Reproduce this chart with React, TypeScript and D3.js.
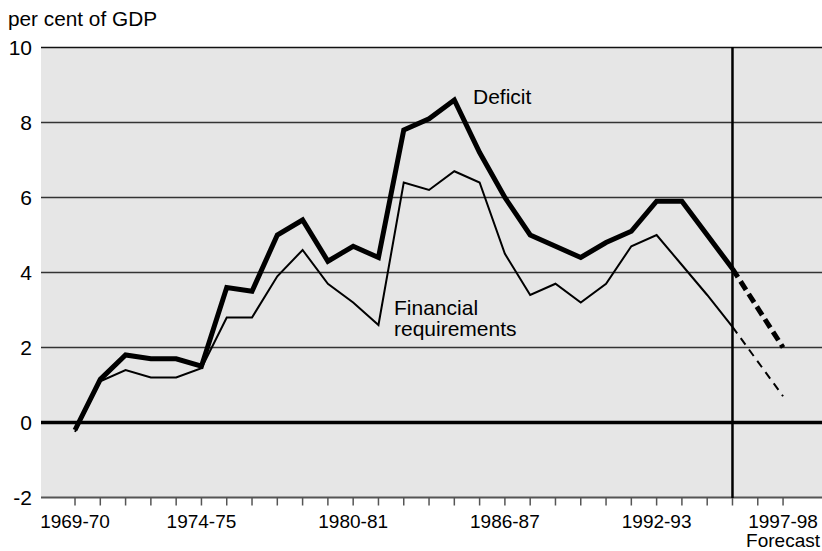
import * as d3 from "d3";
import React from "react";

const years = [
  "1969-70", "1970-71", "1971-72", "1972-73", "1973-74", "1974-75", "1975-76", "1976-77",
  "1977-78", "1978-79", "1979-80", "1980-81", "1981-82", "1982-83", "1983-84", "1984-85",
  "1985-86", "1986-87", "1987-88", "1988-89", "1989-90", "1990-91", "1991-92", "1992-93",
  "1993-94", "1994-95", "1995-96", "1996-97", "1997-98",
];

const deficit = [
  -0.2, 1.15, 1.8, 1.7, 1.7, 1.5, 3.6, 3.5, 5.0, 5.4, 4.3, 4.7, 4.4, 7.8, 8.1, 8.6,
  7.2, 6.0, 5.0, 4.7, 4.4, 4.8, 5.1, 5.9, 5.9, 5.0, 4.1,
];
const financial = [
  -0.25, 1.1, 1.4, 1.2, 1.2, 1.45, 2.8, 2.8, 3.9, 4.6, 3.7, 3.2, 2.6, 6.4, 6.2, 6.7,
  6.4, 4.5, 3.4, 3.7, 3.2, 3.7, 4.7, 5.0, 4.2, 3.4, 2.55,
];
// forecast segments: from 1995-96 to 1997-98
const deficitForecast = [
  { year: "1995-96", value: 4.1 },
  { year: "1997-98", value: 2.0 },
];
const financialForecast = [
  { year: "1995-96", value: 2.55 },
  { year: "1997-98", value: 0.7 },
];

const tickLabels = ["1969-70", "1974-75", "1980-81", "1986-87", "1992-93", "1997-98"];
const yTicks = [-2, 0, 2, 4, 6, 8, 10];
const forecastStart = "1995-96";

const W = 822;
const H = 551;
const left = 41;
const right = 822;
const top = 47.5;
const bottom = 497.5;

export default function App() {
  const idx = (y: string) => years.indexOf(y);
  const x = d3.scaleLinear().domain([-1.345, 29.54]).range([left, right]);
  const y = d3.scaleLinear().domain([-2, 10]).range([bottom, top]);

  const line = d3
    .line<number>()
    .x((_, i) => x(i))
    .y((d) => y(d));
  const fLine = d3
    .line<{ year: string; value: number }>()
    .x((d) => x(idx(d.year)))
    .y((d) => y(d.value));

  const font = "Arial, 'Liberation Sans', Helvetica, sans-serif";

  return (
    <svg
      width={W}
      height={H}
      style={{ position: "absolute", left: 0, top: 0, background: "#fff" }}
      fontFamily={font}
    >
      <rect x={left} y={top} width={right - left} height={bottom - top} fill="#e6e6e6" />

      {yTicks
        .filter((t) => t > 0)
        .map((t) => (
          <line key={t} x1={left} x2={right} y1={y(t)} y2={y(t)} stroke={t === 10 ? "#111" : "#333"} strokeWidth={1.5} />
        ))}
      <line x1={left} x2={right} y1={y(-2)} y2={y(-2)} stroke="#555" strokeWidth={2} />
      {years.map((yr, i) => (
        <line key={yr} x1={x(i)} x2={x(i)} y1={y(-2)} y2={y(-2) + 8} stroke="#555" strokeWidth={1.5} />
      ))}

      <line x1={left} x2={right} y1={y(0)} y2={y(0)} stroke="#000" strokeWidth={3.5} />

      <line
        x1={x(idx(forecastStart))}
        x2={x(idx(forecastStart))}
        y1={top - 0.5}
        y2={bottom + 0.5}
        stroke="#000"
        strokeWidth={2.5}
      />

      <path d={line(financial) || ""} fill="none" stroke="#000" strokeWidth={2} strokeLinejoin="miter" />
      <path d={fLine(financialForecast) || ""} fill="none" stroke="#000" strokeWidth={2} strokeDasharray="8 6" />
      <path d={line(deficit) || ""} fill="none" stroke="#000" strokeWidth={5} strokeLinejoin="miter" />
      <path d={fLine(deficitForecast) || ""} fill="none" stroke="#000" strokeWidth={5} strokeDasharray="10 5" />

      {yTicks.map((t) => (
        <text key={t} x={32} y={y(t) + 7.5} textAnchor="end" fontSize={21} fill="#000">
          {t}
        </text>
      ))}
      {tickLabels.map((lb) => (
        <text key={lb} x={x(idx(lb))} y={528} textAnchor="middle" fontSize={19} fill="#000">
          {lb}
        </text>
      ))}
      <text x={x(idx("1997-98"))} y={547} textAnchor="middle" fontSize={19} fill="#000">
        Forecast
      </text>

      <text x={8} y={26} fontSize={20.5} textLength={149} lengthAdjust="spacingAndGlyphs" fill="#000">
        per cent of GDP
      </text>
      <text x={473} y={104} fontSize={21} fill="#000">
        Deficit
      </text>
      <text x={394} y={315} fontSize={21} fill="#000">
        Financial
      </text>
      <text x={394} y={336} fontSize={21} fill="#000">
        requirements
      </text>
    </svg>
  );
}
